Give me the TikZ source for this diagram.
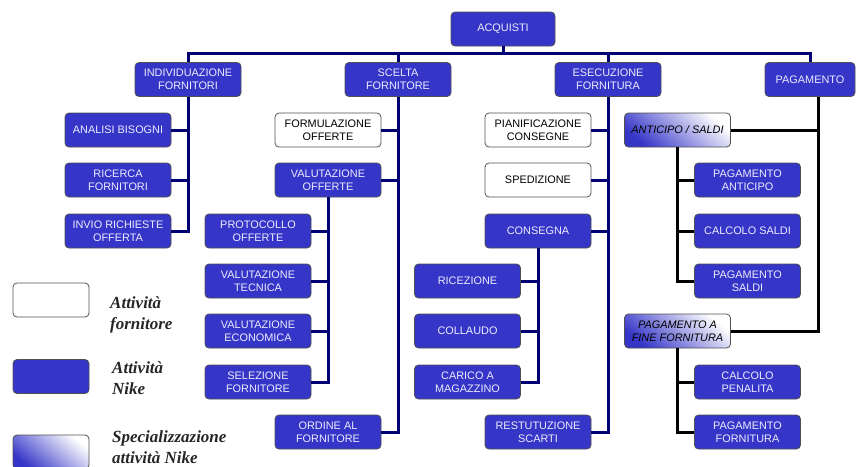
\documentclass[tikz,border=0pt]{standalone}
\usepackage{fontspec}
\setmainfont{Liberation Serif}
\setsansfont{Liberation Sans}
\definecolor{nikeblue}{HTML}{3535C8}
\definecolor{navyline}{HTML}{000070}
\definecolor{boxedge}{HTML}{505050}
\definecolor{lighttext}{HTML}{ECECFF}
\begin{document}
\begin{tikzpicture}[x=1pt,y=-1pt,
  base/.style={rounded corners=4pt, draw=boxedge, line width=0.8pt, minimum height=34pt,
    minimum width=106pt, inner sep=0pt, align=center,
    font=\sffamily\fontsize{10.9}{12.8}\selectfont},
  nike/.style={base, fill=nikeblue, text=lighttext},
  forn/.style={base, fill=white, text=black},
  spec/.style={base, top color=nikeblue, bottom color=white, shading angle=140, text=black,
    font=\sffamily\itshape\fontsize{10.9}{12.8}\selectfont},
  nline/.style={draw=navyline, line width=3pt},
  bline/.style={draw=black, line width=3pt},
  legtext/.style={anchor=west, align=left, text=black!85,
    font=\rmfamily\bfseries\itshape\fontsize{17}{21}\selectfont, inner sep=0pt}
]
\useasboundingbox (0,0) rectangle (859,466);

% root
\node[nike, minimum width=104pt] (acq) at (503,29) {ACQUISTI};

% level 1
\node[nike] (ind) at (188,79.5) {INDIVIDUAZIONE\\FORNITORI};
\node[nike] (sce) at (398,79.5) {SCELTA\\FORNITORE};
\node[nike] (ese) at (608,79.5) {ESECUZIONE\\FORNITURA};
\node[nike, minimum width=90pt] (pag) at (810,79.5) {PAGAMENTO};

% individuazione
\node[nike] (anal) at (118,130) {ANALISI BISOGNI};
\node[nike] (ric) at (118,180) {RICERCA\\FORNITORI};
\node[nike] (inv) at (118,231) {INVIO RICHIESTE\\OFFERTA};

% scelta
\node[forn] (form) at (328,130) {FORMULAZIONE\\OFFERTE};
\node[nike] (valoff) at (328,180) {VALUTAZIONE\\OFFERTE};
\node[nike] (prot) at (258,231) {PROTOCOLLO\\OFFERTE};
\node[nike] (valtec) at (258,281) {VALUTAZIONE\\TECNICA};
\node[nike] (valeco) at (258,331) {VALUTAZIONE\\ECONOMICA};
\node[nike] (sel) at (258,382) {SELEZIONE\\FORNITORE};
\node[nike] (ord) at (328,432) {ORDINE AL\\FORNITORE};

% esecuzione
\node[forn] (pian) at (538,130) {PIANIFICAZIONE\\CONSEGNE};
\node[forn] (sped) at (538,180) {SPEDIZIONE};
\node[nike] (cons) at (538,231) {CONSEGNA};
\node[nike] (ricez) at (467.5,281) {RICEZIONE};
\node[nike] (coll) at (467.5,331) {COLLAUDO};
\node[nike] (car) at (467.5,382) {CARICO A\\MAGAZZINO};
\node[nike] (rest) at (538,432) {RESTUTUZIONE\\SCARTI};

% pagamento
\node[spec] (ant) at (677.5,130) {ANTICIPO / SALDI};
\node[nike] (pant) at (747.5,180) {PAGAMENTO\\ANTICIPO};
\node[nike] (csal) at (747.5,231) {CALCOLO SALDI};
\node[nike] (psal) at (747.5,281) {PAGAMENTO\\SALDI};
\node[spec] (pfin) at (677.5,331) {PAGAMENTO A\\FINE FORNITURA};
\node[nike] (cpen) at (747.5,382) {CALCOLO\\PENALITA};
\node[nike] (pforn) at (747.5,432) {PAGAMENTO\\FORNITURA};

% connectors
\coordinate (bar) at (503,53);
\draw[nline] (acq.south) -- (bar);
\draw[nline] (ind.north) |- (bar) -| (pag.north);
\draw[nline] (sce.north) -- (sce.north |- bar);
\draw[nline] (ese.north) -- (ese.north |- bar);

\draw[nline] (ind.south) |- (inv.east);
\draw[nline] (anal.east) -- (anal.east -| ind.south);
\draw[nline] (ric.east) -- (ric.east -| ind.south);

\draw[nline] (sce.south) |- (ord.east);
\draw[nline] (form.east) -- (form.east -| sce.south);
\draw[nline] (valoff.east) -- (valoff.east -| sce.south);
\draw[nline] (valoff.south) |- (sel.east);
\draw[nline] (prot.east) -- (prot.east -| valoff.south);
\draw[nline] (valtec.east) -- (valtec.east -| valoff.south);
\draw[nline] (valeco.east) -- (valeco.east -| valoff.south);

\draw[nline] (ese.south) |- (rest.east);
\draw[nline] (pian.east) -- (pian.east -| ese.south);
\draw[nline] (sped.east) -- (sped.east -| ese.south);
\draw[nline] (cons.east) -- (cons.east -| ese.south);
\draw[nline] (cons.south) |- (car.east);
\draw[nline] (ricez.east) -- (ricez.east -| cons.south);
\draw[nline] (coll.east) -- (coll.east -| cons.south);

\coordinate (pagtrunk) at (818,97);
\draw[bline] (pagtrunk) |- (pfin.east);
\draw[bline] (ant.east) -- (ant.east -| pagtrunk);
\draw[bline] (ant.south) |- (psal.west);
\draw[bline] (pant.west) -- (pant.west -| ant.south);
\draw[bline] (csal.west) -- (csal.west -| ant.south);
\draw[bline] (pfin.south) |- (pforn.west);
\draw[bline] (cpen.west) -- (cpen.west -| pfin.south);

% legend
\node[forn, minimum width=76pt] (lw) at (51,300) {};
\node[nike, minimum width=76pt] (lb) at (51,376.5) {};
\node[spec, minimum width=76pt] (lg) at (51,452) {};
\node[legtext] (tw) at (110,315) {Attività\\fornitore};
\node[legtext] (tb) at (112,378) {Attività\\Nike};
\node[legtext] (tg) at (112,447) {Specializzazione\\attività Nike};
\end{tikzpicture}
\end{document}
